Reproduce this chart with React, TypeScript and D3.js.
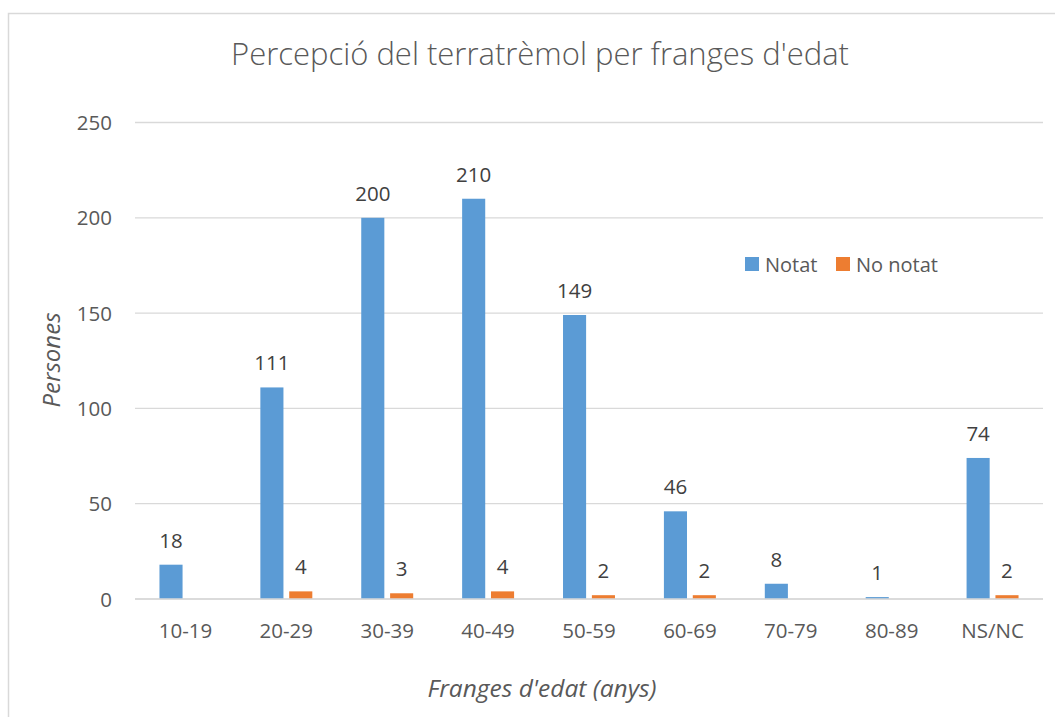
import React, { useEffect, useRef } from "react";
import * as d3 from "d3";

const categories = ["10-19", "20-29", "30-39", "40-49", "50-59", "60-69", "70-79", "80-89", "NS/NC"];
const notat = [18, 111, 200, 210, 149, 46, 8, 1, 74];
const noNotat = [0, 4, 3, 4, 2, 2, 0, 0, 2];
const seriesNames = ["Notat", "No notat"];
const seriesColors = ["#5B9BD5", "#ED7D31"];
const yTicks = [0, 50, 100, 150, 200, 250];

const W = 1055;
const H = 717;
const FONT = "'Open Sans', 'Noto Sans', sans-serif";

export default function App() {
  const ref = useRef<SVGSVGElement>(null);

  useEffect(() => {
    const svg = d3.select(ref.current);
    svg.selectAll("*").remove();

    const left = 135, right = 1043, top = 122.5, bottom = 599;

    // chart frame, runs past the right and bottom edge
    svg.append("rect")
      .attr("x", 8.5).attr("y", 13.5)
      .attr("width", W + 20).attr("height", H + 20)
      .attr("fill", "#fff")
      .attr("stroke", "#d9d9d9")
      .attr("stroke-width", 1.5);

    svg.append("text")
      .attr("x", 540).attr("y", 65)
      .attr("text-anchor", "middle")
      .attr("font-family", FONT)
      .attr("font-size", 31)
      .attr("font-weight", 300)
      .attr("fill", "#595959")
      .text("Percepció del terratrèmol per franges d'edat");

    const y = d3.scaleLinear().domain([0, 250]).range([bottom, top]);
    const x0 = d3.scaleBand<string>().domain(categories).range([left, right])
      .paddingInner(0.485).paddingOuter(0.2425);
    const x1 = d3.scaleBand<string>().domain(seriesNames).range([0, x0.bandwidth()]).paddingInner(0.2);

    // gridlines
    svg.append("g").selectAll("line").data(yTicks).enter().append("line")
      .attr("x1", left).attr("x2", right)
      .attr("y1", d => y(d)).attr("y2", d => y(d))
      .attr("stroke", "#d9d9d9").attr("stroke-width", 1.3);

    // y tick labels
    svg.append("g").selectAll("text").data(yTicks).enter().append("text")
      .attr("x", 112).attr("y", d => y(d) + 7.5)
      .attr("text-anchor", "end")
      .attr("font-family", FONT).attr("font-size", 20.5)
      .attr("fill", "#595959")
      .text(d => d);

    const series = [notat, noNotat];
    series.forEach((vals, si) => {
      svg.append("g").selectAll("rect").data(vals).enter().append("rect")
        .attr("x", (d, i) => x0(categories[i])! + x1(seriesNames[si])!)
        .attr("width", x1.bandwidth())
        .attr("y", d => y(d))
        .attr("height", d => bottom - y(d))
        .attr("fill", seriesColors[si]);
    });

    // data labels
    series.forEach((vals, si) => {
      vals.forEach((v, i) => {
        if (v <= 0) return;
        svg.append("text")
          .attr("x", x0(categories[i])! + x1(seriesNames[si])! + x1.bandwidth() / 2)
          .attr("y", y(v) - 17)
          .attr("text-anchor", "middle")
          .attr("font-family", FONT).attr("font-size", 20.5)
          .attr("fill", "#404040")
          .text(v);
      });
    });

    // x axis line
    svg.append("line")
      .attr("x1", left).attr("x2", right)
      .attr("y1", bottom).attr("y2", bottom)
      .attr("stroke", "#d9d9d9").attr("stroke-width", 1.5);

    svg.append("g").selectAll("text").data(categories).enter().append("text")
      .attr("x", d => x0(d)! + x0.bandwidth() / 2)
      .attr("y", 638)
      .attr("text-anchor", "middle")
      .attr("font-family", FONT).attr("font-size", 20.5)
      .attr("fill", "#595959")
      .text(d => d);

    // axis titles
    svg.append("text")
      .attr("transform", "translate(60,360) rotate(-90)")
      .attr("text-anchor", "middle")
      .attr("font-family", FONT).attr("font-size", 24)
      .attr("font-style", "italic")
      .attr("fill", "#595959")
      .text("Persones");

    svg.append("text")
      .attr("x", 542).attr("y", 697)
      .attr("text-anchor", "middle")
      .attr("font-family", FONT).attr("font-size", 24.5)
      .attr("font-style", "italic")
      .attr("fill", "#595959")
      .text("Franges d'edat (anys)");

    // legend
    const legendX = [745, 836];
    seriesNames.forEach((name, i) => {
      svg.append("rect")
        .attr("x", legendX[i]).attr("y", 257)
        .attr("width", 14).attr("height", 14)
        .attr("fill", seriesColors[i]);
      svg.append("text")
        .attr("x", legendX[i] + 20).attr("y", 271.5)
        .attr("font-family", FONT).attr("font-size", 20)
        .attr("fill", "#595959")
        .text(name);
    });
  }, []);

  return (
    <svg ref={ref} width={W} height={H} style={{ position: "absolute", left: 0, top: 0 }}></svg>
  );
}
